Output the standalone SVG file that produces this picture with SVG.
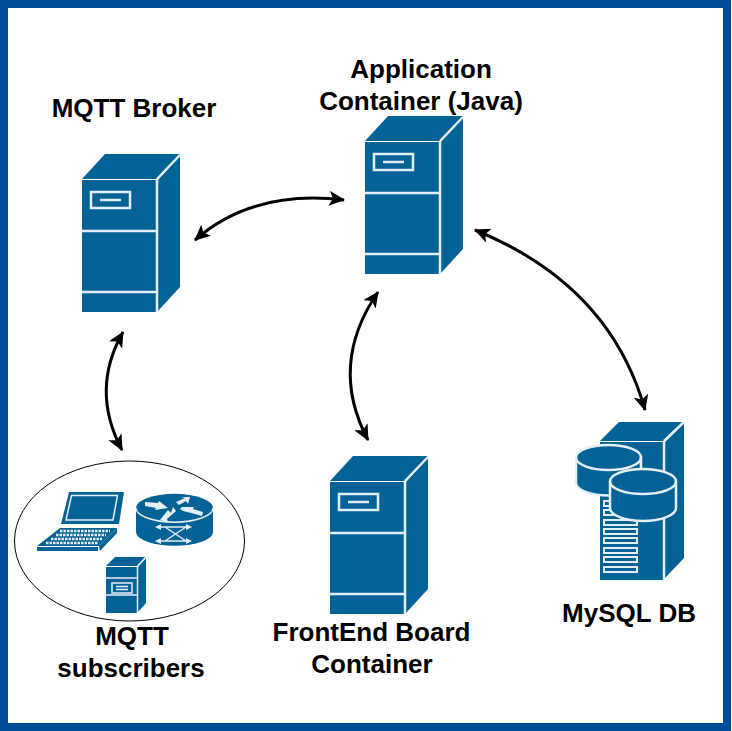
<svg xmlns="http://www.w3.org/2000/svg" width="732" height="731" viewBox="0 0 732 731">
<style>
.t{font-family:"Liberation Sans",Arial,sans-serif;font-weight:700;font-size:26px;fill:#000;text-anchor:middle}
.b{fill:#036397}
.w{fill:none;stroke:#e6eff5;stroke-width:2.5}
.n{fill:none;stroke:#e6eff5;stroke-width:1.5}
.f{fill:#e6eff5}
.cyl{fill:#036397;stroke:#e6eff5;stroke-width:2.5}
.c{fill:none;stroke:#000;stroke-width:3;marker-start:url(#ah);marker-end:url(#ah)}
</style>
<defs>
<marker id="ah" viewBox="0 0 16 15" refX="15" refY="7.5" markerWidth="16" markerHeight="15" markerUnits="userSpaceOnUse" orient="auto-start-reverse"><path d="M0,0L16,7.5L0,15L4,7.5Z" fill="#000"/></marker>
<symbol id="server" width="100" height="160" viewBox="0 0 100 160" overflow="visible">
<path class="b" d="M23,0H98L75,25H0Z"/>
<path class="b" d="M98,1V133L76,157V26Z"/>
<rect class="b" y="26" width="75" height="132"/>
<path class="w" d="M0,77H75M0,138H75M75,26V158M75,25L98,1"/>
<rect class="w" x="9" y="38" width="39" height="16"/>
<path class="w" d="M18,46H39"/>
</symbol>
</defs>
<rect x="4" y="4" width="723" height="723" fill="#fff" stroke="#004c99" stroke-width="8"/>
<g id="connectors">
<path class="c" d="M195,240C235,205 285,193 344,200"/>
<path class="c" d="M123,332Q90,390 122,450"/>
<path class="c" d="M378,292Q328,365 368,440"/>
<path class="c" d="M475,230Q610,285 645,410"/>
</g>
<g id="mqtt-broker">
<use href="#server" x="82" y="154"/>
<text class="t" x="134" y="117">MQTT Broker</text>
</g>
<g id="application-container">
<use href="#server" x="365" y="116"/>
<text class="t" x="421" y="78">Application</text>
<text class="t" x="421" y="110">Container (Java)</text>
</g>
<g id="frontend-container">
<use href="#server" x="330" y="456"/>
<text class="t" x="371.500" y="641">FrontEnd Board</text>
<text class="t" x="372" y="673">Container</text>
</g>
<g id="mysql-db">
<path class="b" d="M619,422H683L663,441H600Z"/>
<path class="b" d="M684,423V558L665,578V442Z"/>
<rect class="b" x="600" y="442" width="63" height="138"/>
<path class="w" d="M664,442V579M664,441L684,422"/>
<g class="n" style="stroke-width:2"><rect x="604" y="501" width="32" height="5"/><rect x="604" y="510" width="32" height="5"/><rect x="604" y="520" width="33" height="5"/><rect x="604" y="529" width="33" height="5"/><rect x="604" y="538" width="33" height="5"/><rect x="604" y="548" width="33" height="5"/><rect x="604" y="557" width="33" height="5"/><rect x="604" y="567" width="33" height="5"/></g>
<path class="cyl" d="M576,457.500A32.500,12.500 0 0 1 641,457.500V483A32.500,12.500 0 0 1 576,483Z"/>
<path class="w" d="M576,457.500A32.500,12.500 0 0 0 641,457.500"/>
<path class="cyl" d="M610,481.500A33,12.500 0 0 1 676,481.500V508A33,13 0 0 1 610,508Z"/>
<path class="w" d="M610,481.500A33,12.500 0 0 0 676,481.500"/>
<text class="t" x="629" y="622">MySQL DB</text>
</g>
<g id="mqtt-subscribers">
<ellipse cx="129.500" cy="541" rx="115" ry="80" fill="#fff" stroke="#000" stroke-width="1"/>
<path class="b" d="M69,492H124L119,524H61Z"/>
<path class="w" style="stroke-width:1.500" d="M71.500,495.500H117.500L113,520H66Z"/>
<path d="M60,528H117L99,546H37Z" fill="#036397"/>
<path d="M60,531H110M56,535H106M51,539H102M46,543H98" stroke="#e6eff5" stroke-width="2.500" stroke-dasharray="2.500 1" fill="none"/>
<path class="b" d="M37,547H98V551H37ZM100,551L117,533V528L99,546Z"/>
<path class="b" d="M136,508A38,14 0 0 1 213,508V532A38,13.500 0 0 1 136,532Z"/>
<path class="n" d="M136,508A38,14 0 0 0 213,508"/>
<path class="f" d="M145,502L158,503L159,501L168,508L155,510L156,508L145,506ZM160,520L168,510L171,513L173,507L176,511L167,519L168,522ZM176,502L185,498L181,497L190,497L188,504L186,501L179,505ZM180,509L183,511L195,514L202,516L203,512L193,509L194,507L182,507Z"/>
<path class="n" d="M160,527H190M160,541H190M165,527L186,541M186,527L165,541"/>
<path class="f" d="M155,527L161,524V530ZM192,527L186,524V530ZM155,541L161,538V544ZM192,541L186,538V544Z"/>
<path class="b" d="M115,557H146L138,566H106Z"/>
<path class="b" d="M146,558V603L138,612V567Z"/>
<rect class="b" x="106" y="567" width="31" height="46"/>
<path class="n" d="M106,578H137M106,595H137M137.500,567V613M137.500,566L146,557"/>
<rect class="n" x="112" y="583" width="20" height="10"/>
<path class="n" d="M116,586.500H128M116,589.500H128"/>
<text class="t" x="132" y="645">MQTT</text>
<text class="t" x="131" y="677">subscribers</text>
</g>
</svg>
